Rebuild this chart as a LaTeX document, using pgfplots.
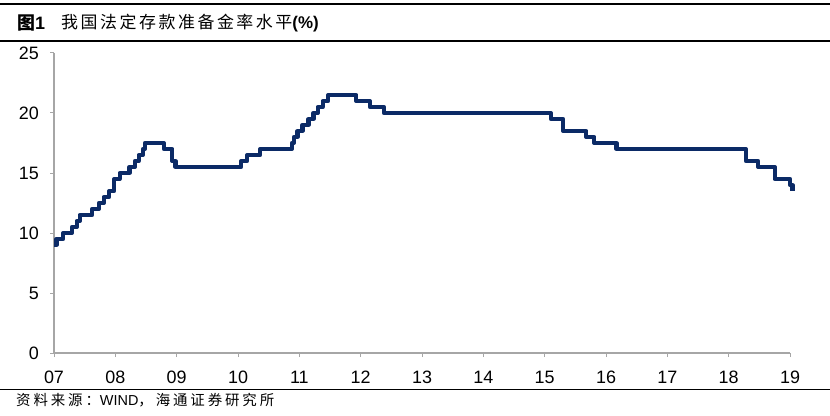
\documentclass[border=0pt]{standalone}
\usepackage{fontspec}
\setmainfont{Liberation Sans}
\newfontfamily\cjk{Noto Sans CJK SC}
\newfontfamily\cjktitle[LetterSpace=15]{Noto Sans CJK SC}
\newfontfamily\cjksrc[LetterSpace=20]{Noto Sans CJK SC}
\usepackage{pgfplots}
\pgfplotsset{compat=1.18}
\definecolor{navy}{HTML}{0B2A66}
\definecolor{axgray}{HTML}{A6A6A6}
\begin{document}
\begin{tikzpicture}[x=1bp,y=1bp]
\useasboundingbox (0,0) rectangle (830,415);
\draw[line width=1.3bp] (0,411) -- (830,411);
\draw[line width=1bp] (0,374) -- (830,374);
\draw[line width=1bp] (0,26) -- (830,26);
\node[anchor=west, inner sep=0] at (17,392) {\fontsize{18}{18}\selectfont\bfseries{\cjk 图}1};
\node[anchor=west, inner sep=0] at (61,392) {\fontsize{17}{17}\selectfont{\cjktitle 我国法定存款准备金率水平}\bfseries(\%)};
\node[anchor=west, inner sep=0] at (16,15) {\fontsize{14.5}{15}\selectfont{\cjksrc 资料来源：}WIND{\cjksrc ，海通证券研究所}};
\begin{axis}[
  at={(54bp,62bp)}, anchor=south west,
  scale only axis, width=736bp, height=300bp,
  xmin=7, xmax=19, ymin=0, ymax=25,
  axis lines*=left,
  axis line style={axgray, line width=1.2bp},
  tick style={axgray, line width=1bp},
  tick align=outside, major tick length=4bp,
  xtick={7,8,...,19},
  xticklabels={07,08,09,10,11,12,13,14,15,16,17,18,19},
  ytick={0,5,10,15,20,25},
  /pgf/number format/assume math mode=true,
  tick label style={font=\fontsize{18}{18}\selectfont, black},
  xticklabel style={inner sep=0pt, yshift=-14bp},
  yticklabel style={inner sep=0pt, xshift=-11bp},
  clip=false,
]
\addplot[const plot, navy, line width=4.2bp, line join=round] coordinates {
(7.00,9.0) (7.04,9.5) (7.15,10.0) (7.29,10.5) (7.37,11.0) (7.42,11.5)
(7.62,12.0) (7.73,12.5) (7.81,13.0) (7.90,13.5) (7.98,14.5)
(8.07,15.0) (8.23,15.5) (8.32,16.0) (8.38,16.5) (8.45,17.0) (8.48,17.5)
(8.79,17.0) (8.93,16.0) (8.98,15.5)
(10.05,16.0) (10.15,16.5) (10.36,17.0) (10.88,17.5) (10.91,18.0) (10.97,18.5)
(11.05,19.0) (11.15,19.5) (11.23,20.0) (11.30,20.5) (11.38,21.0) (11.47,21.5)
(11.93,21.0) (12.15,20.5) (12.38,20.0)
(15.10,19.5) (15.30,18.5) (15.68,18.0) (15.81,17.5) (16.17,17.0)
(18.28,16.0) (18.48,15.5) (18.75,14.5) (19.00,14.0) (19.04,13.5)
};
\end{axis}
\end{tikzpicture}
\end{document}
